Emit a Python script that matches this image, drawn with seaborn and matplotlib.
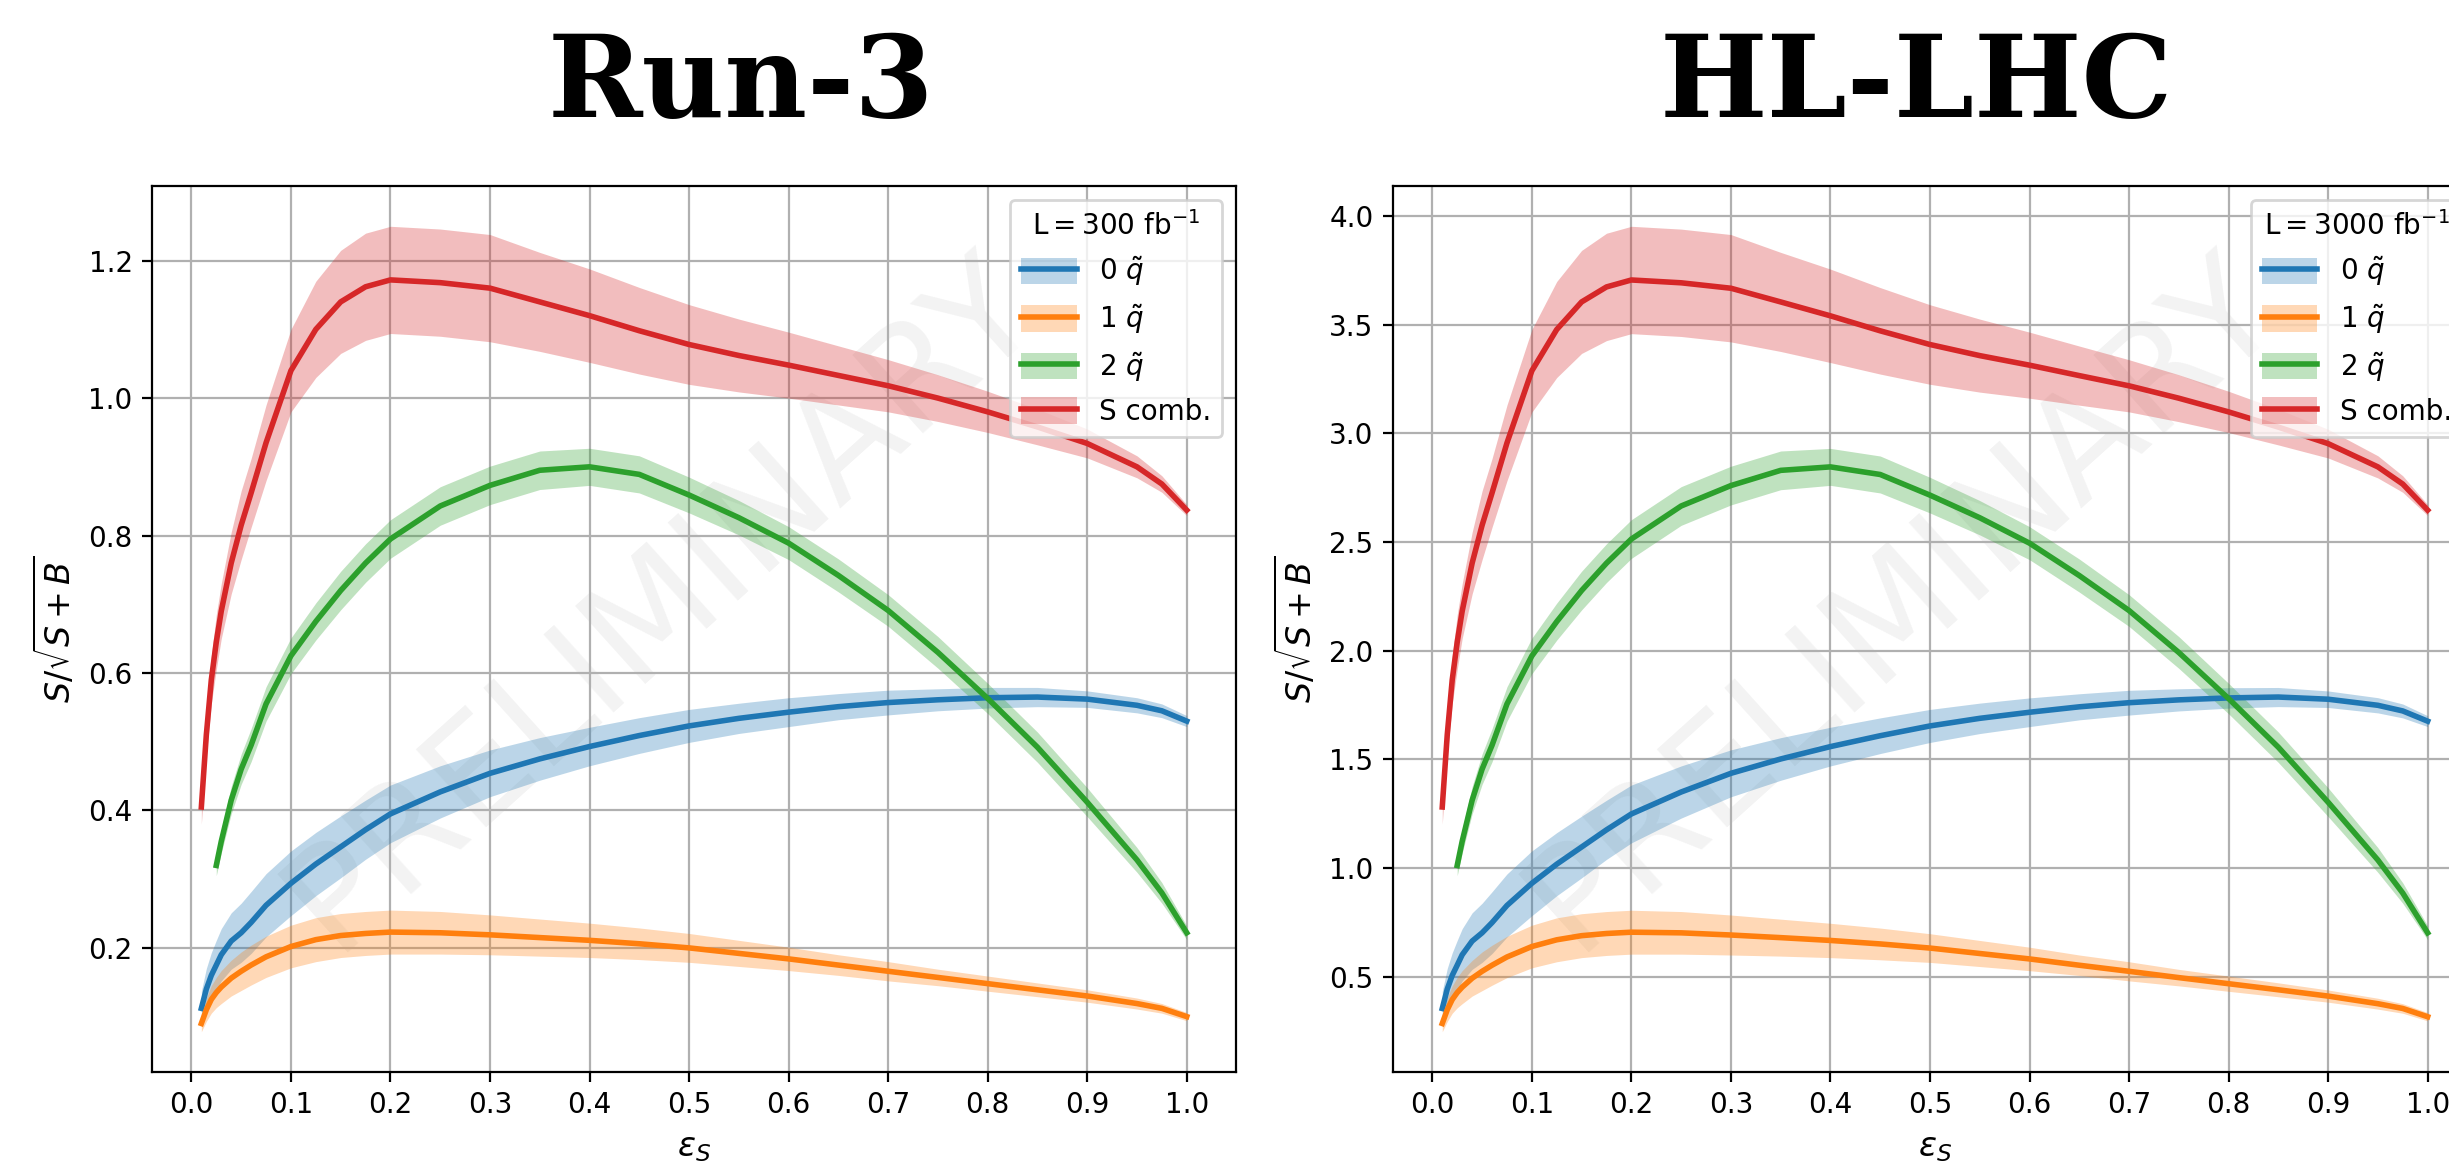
import numpy as np
import pandas as pd
import matplotlib
matplotlib.use("Agg")
import matplotlib.pyplot as plt
from matplotlib.patches import Patch
from matplotlib.lines import Line2D
import seaborn as sns

# Signal efficiency scan points
eps_s = [0.01, 0.015, 0.02, 0.025, 0.03, 0.04, 0.05, 0.06, 0.075, 0.1, 0.125, 0.15,
         0.175, 0.2, 0.25, 0.3, 0.35, 0.4, 0.45, 0.5, 0.55, 0.6, 0.65, 0.7, 0.75,
         0.8, 0.85, 0.9, 0.95, 0.975, 1.0]

categories = ["0 $\\tilde{q}$", "1 $\\tilde{q}$", "2 $\\tilde{q}$", "S comb."]
colors = ["#1f77b4", "#ff7f0e", "#2ca02c", "#d62728"]
panel_titles = ["Run-3", "HL-LHC"]
lumi_labels = [r"$\mathrm{L} = 300\ \mathrm{fb}^{-1}$", r"$\mathrm{L} = 3000\ \mathrm{fb}^{-1}$"]
nan = np.nan

# ---- Run-3 (300 fb^-1): central significance and band half-widths ----
run3_q0 = [0.112, 0.14, 0.16, 0.175, 0.19, 0.21, 0.222, 0.237, 0.262, 0.294, 0.322, 0.347,
           0.372, 0.395, 0.427, 0.454, 0.475, 0.493, 0.509, 0.523, 0.534, 0.543, 0.551,
           0.557, 0.561, 0.564, 0.565, 0.562, 0.553, 0.545, 0.530]
run3_q0_err = [0.025, 0.03, 0.033, 0.036, 0.038, 0.041, 0.043, 0.045, 0.046, 0.047, 0.046,
               0.045, 0.043, 0.042, 0.038, 0.034, 0.031, 0.028, 0.026, 0.024, 0.022, 0.021,
               0.019, 0.018, 0.016, 0.015, 0.014, 0.012, 0.011, 0.010, 0.008]
run3_q1 = [0.09, 0.11, 0.125, 0.135, 0.143, 0.156, 0.166, 0.175, 0.187, 0.202, 0.212, 0.218,
           0.221, 0.223, 0.222, 0.219, 0.215, 0.211, 0.206, 0.200, 0.192, 0.184, 0.175,
           0.166, 0.157, 0.148, 0.139, 0.130, 0.119, 0.112, 0.100]
run3_q1_err = [0.012, 0.017, 0.02, 0.022, 0.024, 0.026, 0.028, 0.029, 0.03, 0.031, 0.032,
               0.032, 0.032, 0.032, 0.031, 0.029, 0.027, 0.025, 0.023, 0.021, 0.019, 0.017,
               0.015, 0.014, 0.012, 0.011, 0.010, 0.009, 0.008, 0.007, 0.006]
run3_q2 = [nan, nan, nan, 0.32, 0.355, 0.415, 0.46, 0.495, 0.555, 0.625, 0.675, 0.72,
           0.76, 0.795, 0.843, 0.873, 0.895, 0.900, 0.889, 0.859, 0.826, 0.789, 0.742,
           0.691, 0.630, 0.563, 0.492, 0.412, 0.328, 0.28, 0.222]
run3_q2_err = [nan, nan, nan, 0.015, 0.017, 0.02, 0.022, 0.024, 0.025, 0.026, 0.027, 0.028,
               0.028, 0.028, 0.028, 0.028, 0.028, 0.027, 0.027, 0.026, 0.025, 0.024, 0.024,
               0.023, 0.023, 0.022, 0.022, 0.021, 0.018, 0.015, 0.010]
run3_comb = [0.405, 0.51, 0.59, 0.645, 0.69, 0.76, 0.815, 0.862, 0.935, 1.04, 1.10, 1.14,
             1.162, 1.172, 1.168, 1.160, 1.140, 1.120, 1.098, 1.078, 1.062, 1.048, 1.033,
             1.018, 1.000, 0.980, 0.958, 0.934, 0.900, 0.875, 0.837]
run3_comb_err = [0.025, 0.03, 0.035, 0.04, 0.04, 0.045, 0.05, 0.05, 0.055, 0.06, 0.07, 0.075,
                 0.078, 0.078, 0.078, 0.078, 0.072, 0.068, 0.063, 0.058, 0.053, 0.048, 0.043,
                 0.038, 0.034, 0.030, 0.026, 0.021, 0.016, 0.012, 0.008]

# ---- HL-LHC (3000 fb^-1) ----
hl_q0 = [0.354, 0.443, 0.506, 0.553, 0.601, 0.664, 0.702, 0.749, 0.828, 0.930, 1.018, 1.097,
         1.176, 1.249, 1.350, 1.436, 1.502, 1.559, 1.609, 1.654, 1.689, 1.717, 1.742,
         1.761, 1.774, 1.783, 1.787, 1.777, 1.749, 1.723, 1.676]
hl_q0_err = [0.079, 0.095, 0.104, 0.114, 0.120, 0.130, 0.136, 0.142, 0.145, 0.149, 0.145,
             0.142, 0.136, 0.133, 0.120, 0.108, 0.098, 0.089, 0.082, 0.076, 0.070, 0.066,
             0.060, 0.057, 0.051, 0.047, 0.044, 0.038, 0.035, 0.032, 0.025]
hl_q1 = [0.285, 0.348, 0.395, 0.427, 0.452, 0.493, 0.525, 0.553, 0.591, 0.639, 0.670, 0.689,
         0.699, 0.705, 0.702, 0.692, 0.680, 0.667, 0.651, 0.632, 0.607, 0.582, 0.553,
         0.525, 0.496, 0.468, 0.440, 0.411, 0.376, 0.354, 0.316]
hl_q1_err = [0.038, 0.054, 0.063, 0.070, 0.076, 0.082, 0.089, 0.092, 0.095, 0.098, 0.101,
             0.101, 0.101, 0.101, 0.098, 0.092, 0.085, 0.079, 0.073, 0.066, 0.060, 0.054,
             0.047, 0.044, 0.038, 0.035, 0.032, 0.028, 0.025, 0.022, 0.019]
hl_q2 = [nan, nan, nan, 1.012, 1.123, 1.312, 1.455, 1.565, 1.755, 1.976, 2.134, 2.277,
         2.403, 2.514, 2.666, 2.760, 2.830, 2.846, 2.811, 2.716, 2.612, 2.495, 2.346,
         2.185, 1.992, 1.780, 1.556, 1.303, 1.037, 0.885, 0.702]
hl_q2_err = [nan, nan, nan, 0.047, 0.054, 0.063, 0.070, 0.076, 0.079, 0.082, 0.085, 0.089,
             0.089, 0.089, 0.089, 0.089, 0.089, 0.085, 0.085, 0.082, 0.079, 0.076, 0.076,
             0.073, 0.073, 0.070, 0.070, 0.066, 0.057, 0.047, 0.032]
hl_comb = [1.281, 1.613, 1.866, 2.039, 2.182, 2.403, 2.577, 2.726, 2.956, 3.288, 3.478, 3.605,
           3.674, 3.706, 3.693, 3.668, 3.605, 3.541, 3.472, 3.409, 3.358, 3.314, 3.266,
           3.219, 3.162, 3.099, 3.029, 2.953, 2.846, 2.767, 2.647]
hl_comb_err = [0.079, 0.095, 0.111, 0.126, 0.126, 0.142, 0.158, 0.158, 0.174, 0.190, 0.221,
               0.237, 0.247, 0.247, 0.247, 0.247, 0.228, 0.215, 0.199, 0.183, 0.168, 0.152,
               0.136, 0.120, 0.108, 0.095, 0.082, 0.066, 0.051, 0.038, 0.025]

panels = [
    ([run3_q0, run3_q1, run3_q2, run3_comb],
     [run3_q0_err, run3_q1_err, run3_q2_err, run3_comb_err]),
    ([hl_q0, hl_q1, hl_q2, hl_comb],
     [hl_q0_err, hl_q1_err, hl_q2_err, hl_comb_err]),
]

plt.rcParams["font.family"] = ["DejaVu Sans"]

fig = plt.figure(figsize=(12.245, 5.835), dpi=200)
axes = [fig.add_axes([0.0621, 0.0814, 0.4426, 0.7592]),
        fig.add_axes([0.5688, 0.0814, 0.4426, 0.7592])]

x = np.array(eps_s)
for ax, (series, errs), lumi in zip(axes, panels, lumi_labels):
    rows = []
    for cat, vals, err, col in zip(categories, series, errs, colors):
        v = np.array(vals, dtype=float)
        e = np.array(err, dtype=float)
        ok = ~np.isnan(v)
        ax.fill_between(x[ok], v[ok] - e[ok], v[ok] + e[ok], color=col, alpha=0.3,
                        linewidth=0, zorder=2)
        for xi, vi in zip(x[ok], v[ok]):
            rows.append({"eps": xi, "signif": vi, "cat": cat})
    df = pd.DataFrame(rows)
    sns.lineplot(data=df, x="eps", y="signif", hue="cat", hue_order=categories,
                 palette=colors, linewidth=2, legend=False, estimator=None,
                 sort=False, ax=ax, zorder=3)

    ax.text(0.47, 0.53, "PRELIMINARY", transform=ax.transAxes, rotation=42,
            fontsize=52, color="black", alpha=0.05, ha="center", va="center",
            zorder=0.8)

    ax.set_xticks(np.arange(0, 1.01, 0.1))
    ax.grid(True, color="#b0b0b0", linewidth=0.8)
    ax.set_xlabel(r"$\varepsilon_S$", fontsize=12)
    ax.set_ylabel(r"$S/\sqrt{S+B}$", fontsize=12)
    for s in ax.spines.values():
        s.set_linewidth(0.8)

    handles = [(Patch(facecolor=c, alpha=0.3, linewidth=0), Line2D([], [], color=c, lw=2))
               for c in colors]
    ax.legend(handles, categories, title=lumi, loc="upper right", handleheight=1.1,
              fontsize=10, title_fontsize=10)

for ttl, xpos in zip(panel_titles, [0.3026, 0.7823]):
    fig.text(xpos, 0.8997, ttl, ha="center", va="baseline", fontsize=41,
             fontweight="bold", family="DejaVu Serif")

fig.savefig("out.png", dpi=200)
